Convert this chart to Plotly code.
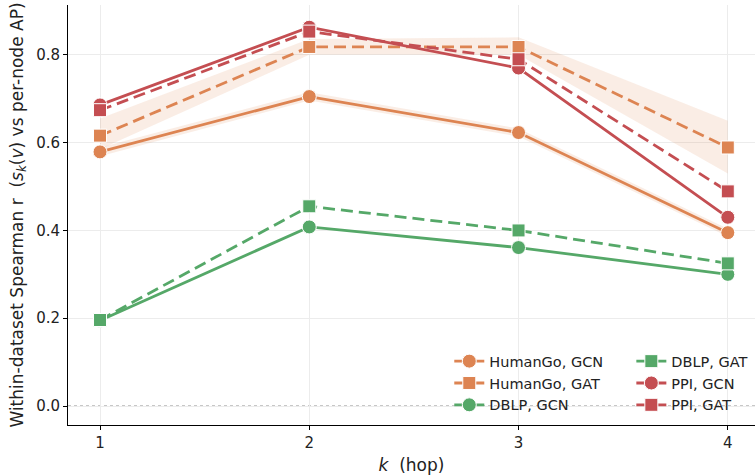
import plotly.graph_objects as go

hops = [1, 2, 3, 4]

humango_gcn = [0.579, 0.705, 0.623, 0.395]
humango_gcn_lo = [0.569, 0.696, 0.614, 0.386]
humango_gcn_hi = [0.589, 0.715, 0.632, 0.404]

humango_gat = [0.616, 0.818, 0.818, 0.589]
humango_gat_lo = [0.585, 0.800, 0.800, 0.530]
humango_gat_hi = [0.655, 0.836, 0.840, 0.650]

dblp_gcn = [0.195, 0.408, 0.361, 0.300]
dblp_gat = [0.196, 0.455, 0.400, 0.325]

ppi_gcn = [0.686, 0.863, 0.770, 0.430]
ppi_gat = [0.674, 0.853, 0.790, 0.489]

ORANGE = "#DD8452"
GREEN = "#55A868"
RED = "#C44E52"

fig = go.Figure()

def band(lo, hi, color):
    fig.add_trace(go.Scatter(
        x=hops + hops[::-1], y=hi + lo[::-1], fill="toself",
        fillcolor=color, line=dict(width=0), mode="lines",
        hoverinfo="skip", showlegend=False))

band(humango_gcn_lo, humango_gcn_hi, "rgba(221,132,82,0.15)")
band(humango_gat_lo, humango_gat_hi, "rgba(221,132,82,0.15)")

def series(y, name, color, dashed, symbol, legend):
    fig.add_trace(go.Scatter(
        x=hops, y=y, name=name, mode="lines+markers",
        line=dict(color=color, width=2.8, dash="12px,6px" if dashed else "solid"),
        marker=dict(symbol=symbol, size=14 if symbol == "circle" else 13,
                    color=color, line=dict(color="white", width=1)),
        legend=legend))

series(humango_gcn, "HumanGo, GCN", ORANGE, False, "circle", "legend")
series(humango_gat, "HumanGo, GAT", ORANGE, True, "square", "legend")
series(dblp_gcn, "DBLP, GCN", GREEN, False, "circle", "legend")
series(dblp_gat, "DBLP, GAT", GREEN, True, "square", "legend2")
series(ppi_gcn, "PPI, GCN", RED, False, "circle", "legend2")
series(ppi_gat, "PPI, GAT", RED, True, "square", "legend2")

fig.add_shape(type="line", xref="paper", x0=0, x1=1, yref="y", y0=0, y1=0,
              line=dict(color="#888888", width=1, dash="dot"), layer="below")

legend_style = dict(font=dict(family="DejaVu Sans", size=14.5, color="#222222"),
                    bgcolor="rgba(255,255,255,0)", borderwidth=0,
                    yanchor="top", xanchor="left", tracegroupgap=0,
                    itemwidth=30)

fig.update_layout(
    width=755, height=475,
    margin=dict(l=68, r=0, t=5, b=50),
    paper_bgcolor="white", plot_bgcolor="white",
    font=dict(family="DejaVu Sans", size=15, color="#222222"),
    legend=dict(x=0.555, y=0.19, **legend_style),
    legend2=dict(x=0.82, y=0.19, **legend_style),
    xaxis=dict(
        range=[0.847, 4.13], tickvals=hops, ticktext=["1", "2", "3", "4"],
        showgrid=True, gridcolor="#ececec", gridwidth=1,
        showline=True, linecolor="black", linewidth=1, mirror=False,
        ticks="outside", ticklen=4, tickcolor="black",
        zeroline=False, automargin=False,
        tickfont=dict(size=15),
        title=dict(text="<i>k</i>  (hop)", font=dict(size=17), standoff=9),
    ),
    yaxis=dict(
        range=[-0.0432, 0.9136], tickvals=[0.0, 0.2, 0.4, 0.6, 0.8],
        ticktext=["0.0", "0.2", "0.4", "0.6", "0.8"],
        showgrid=True, gridcolor="#ececec", gridwidth=1,
        showline=True, linecolor="black", linewidth=1, mirror=False,
        ticks="outside", ticklen=4, tickcolor="black",
        zeroline=False, automargin=False,
        tickfont=dict(size=15),
        title=dict(text="Within-dataset Spearman r  (<i>s</i><sub><i>k</i></sub>(<i>v</i>) vs per-node AP)",
                   font=dict(size=17), standoff=8),
    ),
)

fig.write_html("out.html", config={"displayModeBar": False},
               post_script="document.body.style.margin='0';")
